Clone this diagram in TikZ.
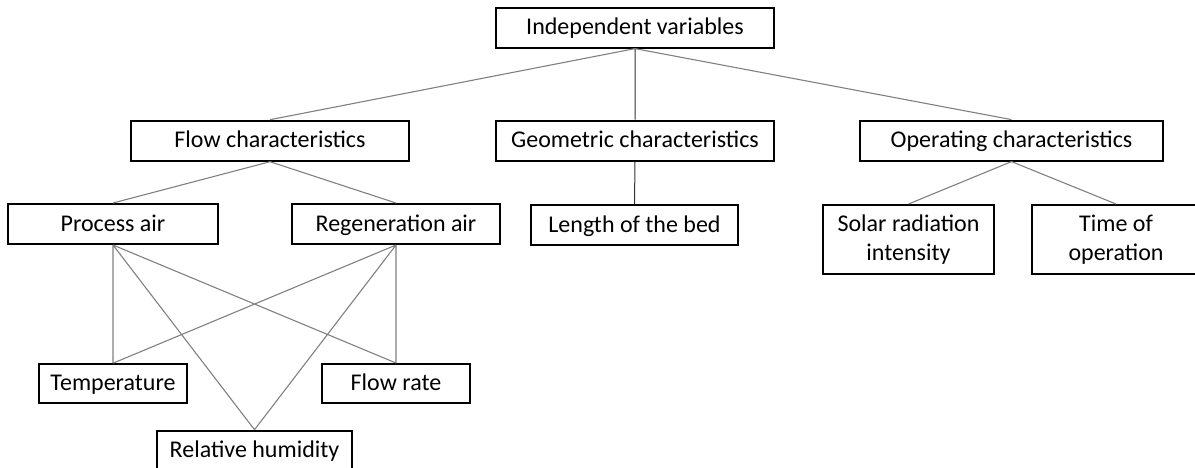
\documentclass[tikz,border=0pt]{standalone}
\usepackage{fontspec}
\setmainfont{Carlito}
\usepackage{tikz}

\tikzset{
	box/.style = {draw, line width = 1pt, inner sep = 0pt, minimum height = 20pt,
		text height = 9.6pt, text depth = 2.6pt,
		align = center, font = \fontsize{12}{14.5}\selectfont},
	tallbox/.style = {box, text height = , text depth = , minimum height = 34.5pt},
	link/.style = {draw = black!50, line width = 0.55pt},
	trunk/.style = {draw = black!80, line width = 0.5pt}
}

\begin{document}
\begin{tikzpicture}[x = 0.5pt, y = -0.5pt]
			\useasboundingbox (0,0) rectangle (1195,467);
		
			% top level
			\node [box, minimum width = 139pt] (indep) at (635,27.6) {Independent variables};
			
			% second level
			\node [box, minimum width = 139pt] (flow) at (270,140.7) {Flow characteristics};
			\node [box, minimum width = 139pt] (geom) at (635,140.7) {Geometric characteristics};
			\node [box, minimum width = 151.5pt] (oper) at (1011.5,140.6) {Operating characteristics};
			
			% third level
			\node [box, minimum width = 105pt] (process) at (113,224) {Process air};
			\node [box, minimum width = 104pt] (regen) at (396,224) {Regeneration air};
			\node [box, minimum width = 103.5pt] (length) at (634.5,225) {Length of the bed};
			\node [tallbox, minimum width = 85.5pt] (solar) at (908.5,239.5) {Solar radiation\\intensity};
			\node [tallbox, minimum width = 84pt] (time) at (1116,239.5) {Time of\\operation};
			
			% air properties
			\node [box, minimum width = 74pt, minimum height = 19.5pt] (temp) at (113,383.7) {Temperature};
			\node [box, minimum width = 74pt, minimum height = 19.5pt] (rate) at (396,383.5) {Flow rate};
			\node [box, minimum width = 97.5pt] (humid) at (254.5,450.7) {Relative humidity};
			
			\draw [link]
				(indep.south) -- (flow.north)
				(indep.south) -- (oper.north)
				(flow.south) -- (process.north)
				(flow.south) -- (regen.north)
				(oper.south) -- (solar.north)
				(oper.south) -- (time.north);
			\draw [trunk]
				(indep.south) -- (geom.north)
				(geom.south) -- (length.north);
				
			\draw [link]
				(process.south) -- (temp.north)
				(process.south) -- (humid.north)
				(process.south) -- (rate.north)
				(regen.south) -- (temp.north)
				(regen.south) -- (humid.north)
				(regen.south) -- (rate.north);
		\end{tikzpicture}
\end{document}
